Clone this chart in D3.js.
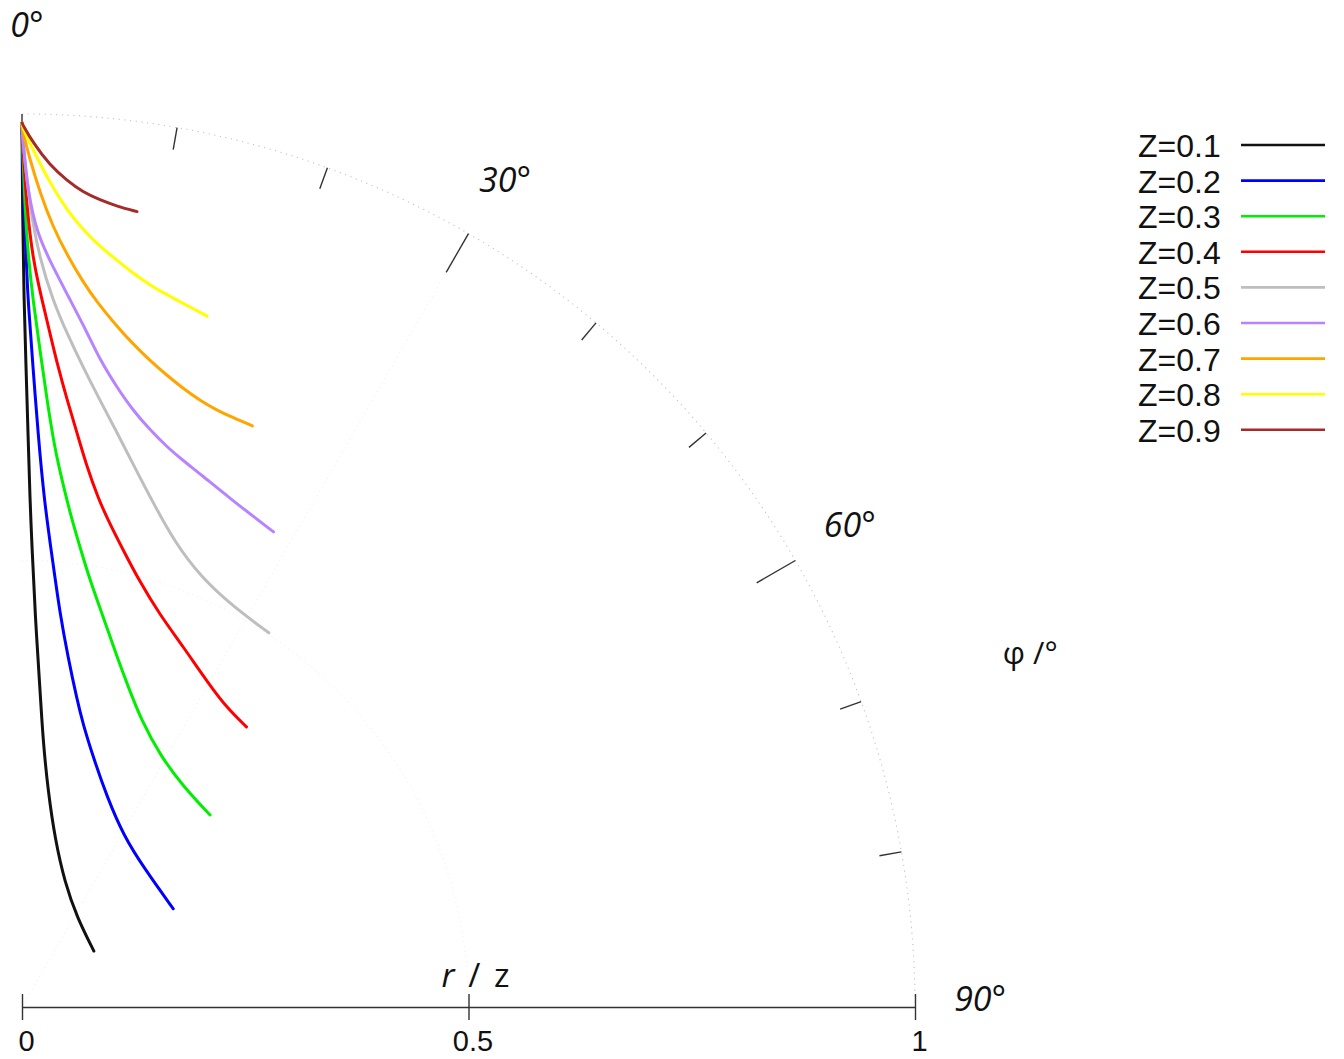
<!DOCTYPE html>
<html>
<head>
<meta charset="utf-8">
<script src="https://cdn.jsdelivr.net/npm/d3@7"></script>
<style>
  body { margin: 0; background: #fff; }
  svg { display: block; }
</style>
</head>
<body>
<div id="plot"></div>
<script>
// series labels and colours
const zLabels = ["Z=0.1", "Z=0.2", "Z=0.3", "Z=0.4", "Z=0.5", "Z=0.6", "Z=0.7", "Z=0.8", "Z=0.9"];
const lineColors = ["#111111", "#0000ff", "#00ee00", "#ff0000", "#bebebe", "#b784ff", "#ffa500", "#ffff00", "#a52a2a"];

// angle phi (degrees from vertical) and radius r/z
const phi01 = [0, 0.04, 0.16, 0.36, 0.6, 0.9, 1.25, 1.9, 3.25, 4.5, 6.8, 11.2, 19.1, 31.4, 52.1];
const r01   = [0.99, 0.887, 0.792, 0.717, 0.643, 0.568, 0.515, 0.441, 0.356, 0.300, 0.245, 0.191, 0.147, 0.118, 0.102];

const phi02 = [0, 0.05, 0.22, 0.39, 0.49, 0.98, 1.6, 2.5, 4.0, 5.5, 7.5, 10.2, 12.1, 15.9, 22.0, 30.7, 41.4, 57.0];
const r02   = [0.99, 0.941, 0.873, 0.818, 0.792, 0.717, 0.643, 0.568, 0.498, 0.443, 0.395, 0.349, 0.325, 0.291, 0.254, 0.223, 0.207, 0.202];

const phi03 = [0, 0.05, 0.22, 0.5, 0.89, 1.57, 2.36, 3.39, 4.34, 5.55, 7.19, 9.05, 11.62, 15.02, 18.33, 22.56, 28.9, 36.2, 44.4];
const r03   = [0.99, 0.960, 0.893, 0.837, 0.792, 0.736, 0.680, 0.625, 0.592, 0.556, 0.519, 0.484, 0.448, 0.408, 0.378, 0.348, 0.321, 0.306, 0.301];

const phi04 = [0, 0.05, 0.36, 0.84, 1.62, 2.38, 3.22, 4.24, 5.47, 6.86, 8.53, 10.0, 12.4, 15.5, 19.3, 24.1, 30.3, 34.5, 38.7];
const r04   = [0.99, 0.965, 0.893, 0.837, 0.792, 0.755, 0.718, 0.682, 0.646, 0.609, 0.576, 0.554, 0.525, 0.494, 0.466, 0.442, 0.417, 0.406, 0.402];

const phi05 = [0, 0.07, 0.58, 1.38, 2.51, 3.82, 5.44, 7.32, 9.4, 11.9, 14.8, 18.2, 22.5, 27.8, 33.4];
const r05   = [0.99, 0.968, 0.893, 0.837, 0.792, 0.756, 0.720, 0.685, 0.652, 0.616, 0.581, 0.548, 0.522, 0.507, 0.502];

const phi06 = [0, 0.05, 0.42, 1.11, 2.18, 3.88, 5.51, 6.87, 8.71, 10.5, 12.5, 14.5, 16.4, 18.6, 22.0, 27.9];
const r06   = [0.99, 0.971, 0.912, 0.867, 0.835, 0.794, 0.759, 0.730, 0.702, 0.680, 0.662, 0.648, 0.638, 0.629, 0.616, 0.602];

const phi07 = [0, 0.05, 0.54, 1.27, 2.28, 3.42, 4.8, 6.06, 7.91, 9.49, 11.19, 12.88, 14.56, 16.34, 18.09, 19.68, 21.62];
const r07   = [0.99, 0.980, 0.949, 0.912, 0.874, 0.844, 0.815, 0.794, 0.770, 0.753, 0.738, 0.726, 0.716, 0.708, 0.703, 0.701, 0.700];

const phi08 = [0, 0.05, 0.74, 1.95, 3.23, 4.49, 5.86, 7.25, 8.6, 10.05, 11.5, 13.5, 15.0];
const r08   = [0.99, 0.984, 0.960, 0.923, 0.894, 0.873, 0.856, 0.843, 0.831, 0.821, 0.814, 0.806, 0.801];

const phi09 = [0, 0.05, 0.73, 1.9, 3.11, 4.28, 5.52, 6.76, 8.23];
const r09   = [0.99, 0.988, 0.968, 0.943, 0.927, 0.915, 0.908, 0.903, 0.900];

const phiSeries = [phi01, phi02, phi03, phi04, phi05, phi06, phi07, phi08, phi09];
const rSeries = [r01, r02, r03, r04, r05, r06, r07, r08, r09];

// axis ticks
const rTicks = [0, 0.5, 1];
const rTickLabels = ["0", "0.5", "1"];
const angleTicks = [0, 10, 20, 30, 40, 50, 60, 70, 80];
const angleLabels = [0, 30, 60, 90];

const width = 1344, height = 1059;
const cx = 22, cy = 1007, R = 893;

const svg = d3.select("div#plot").append("svg")
  .attr("width", width)
  .attr("height", height);

const rScale = d3.scaleLinear().domain([0, 1]).range([0, R]);
const aScale = d3.scaleLinear().domain([0, 90]).range([0, Math.PI / 2]);

const g = svg.append("g").attr("transform", `translate(${cx},${cy})`);

// faint grid (barely visible in the original)
const grid = g.append("g").attr("fill", "none");
const half = d3.path();
half.arc(0, 0, rScale(0.5), -Math.PI / 2, 0);
grid.append("path").attr("d", half.toString())
  .attr("stroke", "#ececec").attr("stroke-width", 1).attr("stroke-dasharray", "1,4");
const p30 = d3.pointRadial(aScale(30), rScale(0.95));
grid.append("line").attr("x1", 0).attr("y1", 0).attr("x2", p30[0]).attr("y2", p30[1])
  .attr("stroke", "#ececec").attr("stroke-width", 1).attr("stroke-dasharray", "1,4");
const outer = d3.path();
outer.arc(0, 0, rScale(1), -Math.PI / 2, 0);
grid.append("path").attr("d", outer.toString())
  .attr("stroke", "#c4c4c4").attr("stroke-width", 1.1).attr("stroke-dasharray", "1.2,4.5");

// angular ticks
g.selectAll(".atick")
  .data(angleTicks)
  .enter().append("line")
  .attr("class", "atick")
  .attr("x1", d => d3.pointRadial(aScale(d), rScale(1))[0])
  .attr("y1", d => d3.pointRadial(aScale(d), rScale(1))[1])
  .attr("x2", d => d3.pointRadial(aScale(d), rScale(d % 30 === 0 ? 0.95 : 0.975))[0])
  .attr("y2", d => d3.pointRadial(aScale(d), rScale(d % 30 === 0 ? 0.95 : 0.975))[1])
  .attr("stroke", "#333")
  .attr("stroke-width", 1.4);

// curves
const line = d3.lineRadial()
  .angle(d => aScale(d[0]))
  .radius(d => rScale(d[1]))
  .curve(d3.curveBasis);

const curveData = phiSeries.map((ph, i) => ph.map((p, j) => [p, rSeries[i][j]]));

g.selectAll(".curve")
  .data(curveData)
  .enter().append("path")
  .attr("class", "curve")
  .attr("d", line)
  .attr("fill", "none")
  .attr("stroke", (d, i) => lineColors[i])
  .attr("stroke-width", 3)
  .attr("stroke-linecap", "round");

// radial (x) axis
const xAxis = d3.axisBottom(rScale)
  .tickValues(rTicks)
  .tickFormat((d, i) => rTickLabels[i])
  .tickSizeOuter(0)
  .tickSizeInner(13)
  .tickPadding(10);

const ax = g.append("g").call(xAxis);
ax.select(".domain").attr("stroke", "#333").attr("stroke-width", 1.4);
ax.selectAll(".tick line").attr("y1", -13).attr("stroke", "#333").attr("stroke-width", 1.4);
ax.selectAll(".tick text")
  .attr("font-family", "Liberation Sans, Arial, sans-serif")
  .attr("font-size", 29)
  .attr("fill", "#111")
  .attr("dx", 4);

// angle labels
const labelAngle = d => 0.29 + d * 0.991 + (d === 30 ? 0.25 : 0);
const labelRadius = d => (d === 0 ? 1.101 : 1.073);
g.selectAll(".alabel")
  .data(angleLabels)
  .enter().append("text")
  .attr("class", "alabel")
  .attr("x", d => d3.pointRadial(aScale(labelAngle(d)), rScale(labelRadius(d)))[0])
  .attr("y", d => d3.pointRadial(aScale(labelAngle(d)), rScale(labelRadius(d)))[1])
  .attr("text-anchor", "middle")
  .attr("dominant-baseline", "central")
  .attr("font-family", "Open Sans, DejaVu Sans, sans-serif")
  .attr("font-style", "italic")
  .attr("font-size", 34)
  .attr("fill", "#111")
  .text(d => d + "°");

// axis titles
g.append("text")
  .attr("x", d3.pointRadial(aScale(70.6), rScale(1.197))[0])
  .attr("y", d3.pointRadial(aScale(70.6), rScale(1.197))[1])
  .attr("text-anchor", "middle")
  .attr("dominant-baseline", "central")
  .attr("font-family", "Open Sans, DejaVu Sans, sans-serif")
  .attr("font-size", 31)
  .attr("fill", "#111")
  .text("φ /°");

const rt = g.append("text")
  .attr("x", rScale(0.5) + 7)
  .attr("y", -33)
  .attr("text-anchor", "middle")
  .attr("dominant-baseline", "central")
  .attr("font-family", "Open Sans, DejaVu Sans, sans-serif")
  .attr("font-size", 33)
  .attr("word-spacing", 5)
  .attr("fill", "#111");
rt.append("tspan").attr("font-style", "italic").text("r");
rt.append("tspan").text(" / z");

// legend
const legend = svg.append("g").attr("transform", "translate(1138,146)");
const rowH = 35.6;
legend.selectAll(".ltext")
  .data(zLabels)
  .enter().append("text")
  .attr("class", "ltext")
  .attr("x", 0)
  .attr("y", (d, i) => i * rowH)
  .attr("dominant-baseline", "central")
  .attr("font-family", "Liberation Sans, Arial, sans-serif")
  .attr("font-size", 32)
  .attr("fill", "#111")
  .text(d => d);
legend.selectAll(".lline")
  .data(zLabels)
  .enter().append("line")
  .attr("class", "lline")
  .attr("x1", 103)
  .attr("x2", 187)
  .attr("y1", (d, i) => i * rowH - 1)
  .attr("y2", (d, i) => i * rowH - 1)
  .attr("stroke", (d, i) => lineColors[i])
  .attr("stroke-width", 2.6);
</script>
</body>
</html>
